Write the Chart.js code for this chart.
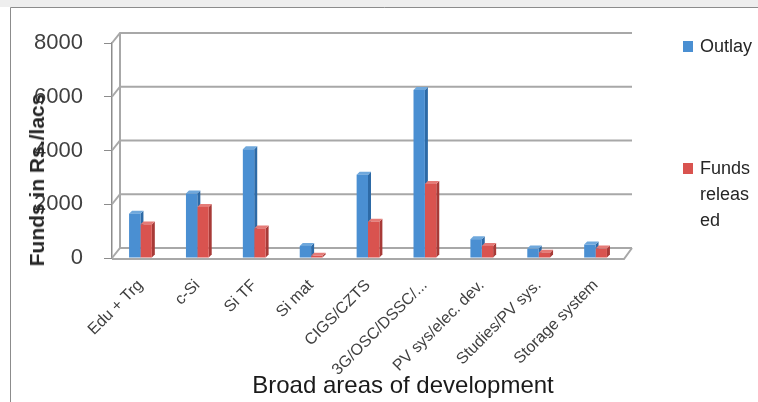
<!DOCTYPE html>
<html>
<head>
<meta charset="utf-8">
<script src="https://cdn.jsdelivr.net/npm/chart.js@4"></script>
<style>
  html, body { margin: 0; padding: 0; background: #fff; }
  #wrap { position: relative; width: 758px; height: 402px; overflow: hidden; font-family: "Liberation Sans", Arial, sans-serif; color: #262626; }
  #chart { position: absolute; left: 0; top: 0; }
  .ytitle { position: absolute; left: 37px; top: 180px; transform: translate(-50%, -50%) rotate(-90deg); font-weight: bold; font-size: 21px; white-space: nowrap; }
  .xtitle { position: absolute; left: 403px; top: 385px; transform: translate(-50%, -50%); font-size: 24px; white-space: nowrap; color: #1a1a1a; }
  .sw { position: absolute; width: 10px; height: 11px; }
  .lg { position: absolute; left: 700px; font-size: 18px; line-height: 26px; }
</style>
</head>
<body>
<div id="wrap">
  <canvas id="chart" width="758" height="402"></canvas>
  <div class="ytitle">Funds in Rs./lacs</div>
  <div class="xtitle">Broad areas of development</div>
  <div class="sw" style="left:683px;top:41px;background:#4a8fd2"></div>
  <div class="lg" style="top:33px">Outlay</div>
  <div class="sw" style="left:683px;top:163px;background:#d9534f"></div>
  <div class="lg" style="top:155px">Funds<br>releas<br>ed</div>
</div>
<script>
// categories and values
const areas = ['Edu + Trg', 'c-Si', 'Si TF', 'Si mat', 'CIGS/CZTS', '3G/OSC/DSSC/...',
  'PV sys/elec. dev.', 'Studies/PV sys.', 'Storage system'];
const outlay = [1650, 2400, 4050, 450, 3100, 6250, 700, 350, 500];
const released = [1250, 1900, 1100, 80, 1350, 2750, 450, 200, 350];
const yTicks = [0, 2000, 4000, 6000, 8000];

const DX = 8, DY = 10;   // depth of back wall
const BD = 3;            // depth of bars

// page frame + pseudo 3D walls
const frame = {
  id: 'frame',
  beforeDraw(chart) {
    const c = chart.ctx;
    c.save();
    c.fillStyle = '#fff';
    c.fillRect(0, 0, chart.width, chart.height);
    c.fillStyle = '#eeeeee';
    c.fillRect(0, 0, chart.width, 7);
    c.strokeStyle = '#8c8c8c';
    c.lineWidth = 1;
    c.beginPath();
    c.moveTo(10.5, chart.height);
    c.lineTo(10.5, 7.5);
    c.lineTo(chart.width, 7.5);
    c.stroke();
    c.restore();
  },
  beforeDatasetsDraw(chart) {
    const c = chart.ctx, a = chart.chartArea, ys = chart.scales.y;
    c.save();
    c.strokeStyle = '#a8a8a8';
    c.lineWidth = 2;
    yTicks.forEach(v => {
      const y = ys.getPixelForValue(v);
      c.beginPath();
      c.moveTo(a.left, y);
      c.lineTo(a.left + DX, y - DY);
      c.lineTo(a.right + DX, y - DY);
      c.stroke();
    });
    const y0 = ys.getPixelForValue(0);
    c.beginPath();
    c.moveTo(a.left, y0 + 1);
    c.lineTo(a.right, y0 + 1);
    c.lineTo(a.right + DX, y0 - DY);
    c.stroke();
    c.beginPath();
    c.moveTo(a.left + DX, ys.getPixelForValue(8000) - DY);
    c.lineTo(a.left + DX, y0 - DY);
    c.stroke();

    // side and top faces of the bars, fronts are drawn over them by Chart.js
    chart.data.datasets.forEach((ds, i) => {
      chart.getDatasetMeta(i).data.forEach(bar => {
        const { x, y, base, width } = bar.getProps(['x', 'y', 'base', 'width'], true);
        const l = x - width / 2, r = x + width / 2;
        c.fillStyle = ds.sideColor;
        c.beginPath();
        c.moveTo(r, y); c.lineTo(r + BD, y - BD); c.lineTo(r + BD, base - BD); c.lineTo(r, base);
        c.closePath(); c.fill();
        c.fillStyle = ds.topColor;
        c.beginPath();
        c.moveTo(l, y); c.lineTo(l + BD, y - BD); c.lineTo(r + BD, y - BD); c.lineTo(r, y);
        c.closePath(); c.fill();
      });
    });
    c.restore();
  }
};

new Chart(document.getElementById('chart'), {
  type: 'bar',
  data: {
    labels: areas,
    datasets: [
      { label: 'Outlay', data: outlay, backgroundColor: '#4a8fd2', sideColor: '#2d6aa6', topColor: '#6fa8dc' },
      { label: 'Funds released', data: released, backgroundColor: '#d9534f', sideColor: '#a83a37', topColor: '#e57b77' }
    ]
  },
  options: {
    responsive: false,
    animation: false,
    layout: { padding: { left: 0, right: 134, top: 43, bottom: 0 } },
    datasets: { bar: { categoryPercentage: 0.4, barPercentage: 1 } },
    plugins: { legend: { display: false }, tooltip: { enabled: false } },
    scales: {
      x: {
        grid: { display: false },
        border: { display: false },
        ticks: {
          autoSkip: false, maxRotation: 45, minRotation: 45, padding: 10,
          color: '#404040', font: { family: 'Liberation Sans', size: 16 }
        },
        afterFit(s) { s.height = 144; }
      },
      y: {
        min: 0, max: 8000,
        afterBuildTicks(s) { s.ticks = yTicks.map(v => ({ value: v })); },
        grid: { drawOnChartArea: false, drawTicks: true, tickLength: 8, color: '#8c8c8c' },
        border: { display: true, color: '#8c8c8c', width: 1.5 },
        ticks: {
          padding: 21, color: '#404040', font: { family: 'Liberation Sans', size: 22 },
          callback: v => String(v)
        },
        afterFit(s) { s.width = 112; }
      }
    }
  },
  plugins: [frame]
});
</script>
</body>
</html>
